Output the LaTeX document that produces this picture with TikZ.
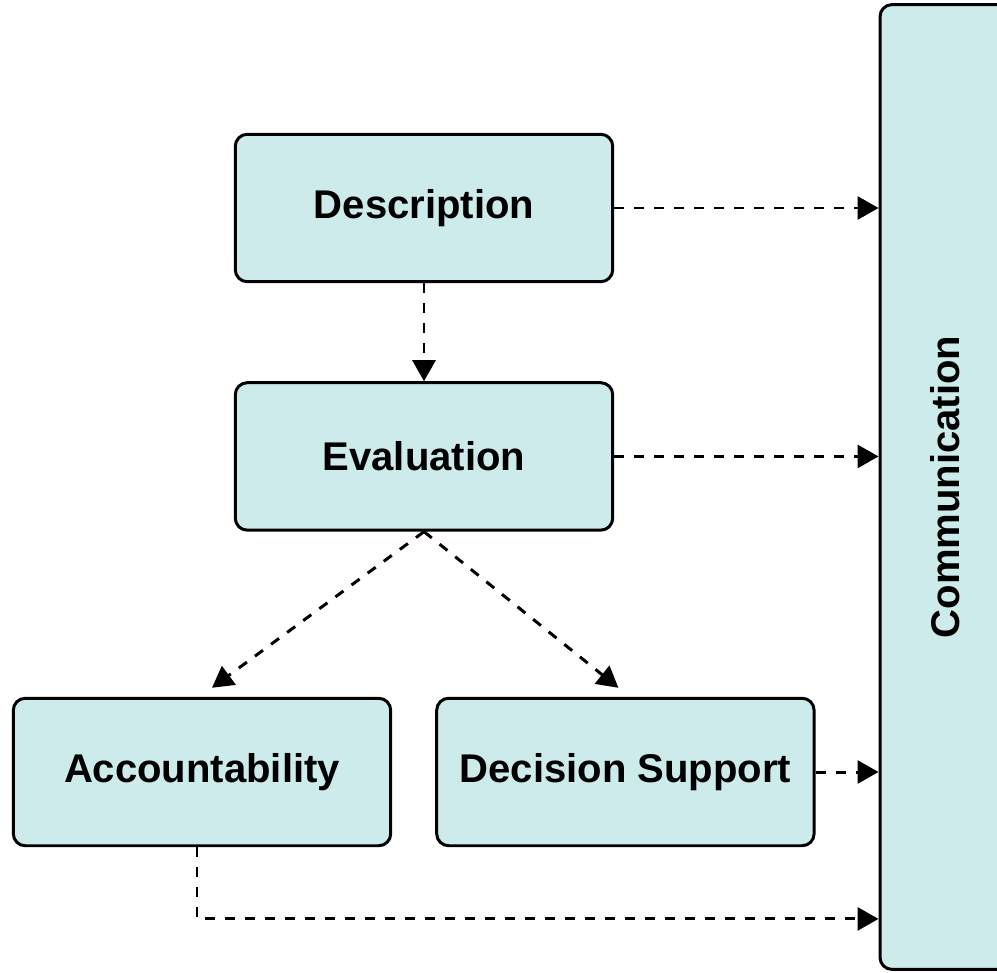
\documentclass[tikz,border=0pt]{standalone}
\usepackage{fontspec}
\setmainfont{Liberation Sans}
\usetikzlibrary{arrows.meta,positioning}
\definecolor{boxcyan}{HTML}{CDEBEB}

\begin{document}
\begin{tikzpicture}[x=0.02cm, y=-0.02cm, >={Triangle[length=0.42cm,width=0.46cm]},
    box/.style={draw, line width=1.7pt, rounded corners=0.24cm, fill=boxcyan,
        minimum width=7.55cm, minimum height=2.95cm, inner sep=0pt,
        font=\fontsize{22.8}{27}\selectfont\bfseries},
    link/.style={->, line width=1.7pt, dash pattern=on 0.2cm off 0.2cm}]
    \useasboundingbox (0,0) rectangle (997,973);

    % Nodes {desc, eval, acc, dec, comm}
    \node [box]                          (desc) at (424,208) {Description};
    \node [box]    [below=1.96cm of desc] (eval)             {Evaluation};
    \node [box]                          (acc)  at (202,772) {Accountability};
    \node [box]    [right=0.86cm of acc] (dec)               {Decision Support};
    \node [box, minimum width=2.6cm, minimum height=19.3cm]
                                         (comm) at (945,487)
                                         {\rotatebox{90}{Communication}};

    % Paths
    \draw [link] (desc.east) -- (desc -| comm.west);
    \draw [link] (desc.south) -- (eval.north);
    \draw [link] (eval.east) -- (eval -| comm.west);
    \draw [link] (eval.south) -- ([xshift=0.2cm, yshift=0.18cm]acc.north);
    \draw [link] (eval.south) -- ([xshift=-0.14cm, yshift=0.18cm]dec.north);
    \draw [link] (dec.east) -- (dec -| comm.west);
    \draw [link] ([xshift=-0.1cm]acc.south) |- ([yshift=1.04cm]comm.south west);

\end{tikzpicture}
\end{document}
